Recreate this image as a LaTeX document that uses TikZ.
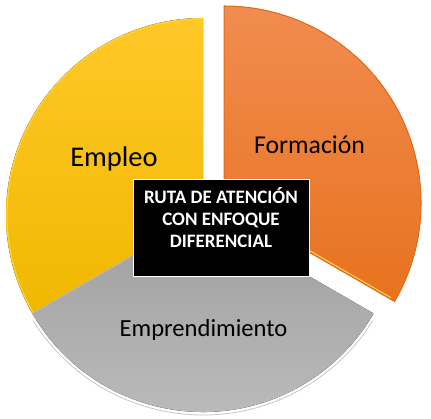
\documentclass[tikz,border=0pt]{standalone}
\usepackage{fontspec}
\setmainfont{Carlito}
\usetikzlibrary{calc}
\definecolor{yelTop}{RGB}{255,200,40}
\definecolor{yelBot}{RGB}{240,184,0}
\definecolor{yelEdge}{RGB}{250,210,60}
\definecolor{orTop}{RGB}{241,140,80}
\definecolor{orBot}{RGB}{232,114,30}
\definecolor{orEdge}{RGB}{228,105,20}
\definecolor{grTop}{RGB}{158,158,158}
\definecolor{grBot}{RGB}{190,190,190}
\definecolor{grEdge}{RGB}{175,175,175}
\tikzset{
  sectorlabel/.style={anchor=base, text=black, inner sep=0pt},
  centerbox/.style={fill=black, draw=white, line width=1pt, minimum width=176pt, minimum height=97pt, inner sep=0pt},
  centertext/.style={text=white, font=\bfseries\fontsize{19}{22}\selectfont, align=center, inner sep=0pt},
}
\begin{document}
\begin{tikzpicture}[x=1pt,y=1pt]
\useasboundingbox (0,0) rectangle (431,419);
\fill[white] (0,0) rectangle (431,419);
% main pie centre and exploded slice centre
\coordinate (C) at (203,204);
\coordinate (O) at (224,216);
% faint shadow under the grey slice
\draw[gray!45, line width=0.8pt] (C) ++(212:200) arc (212:328:200);
% yellow slice
\fill[top color=yelTop, bottom color=yelBot] (C) -- ++(90:197) arc (90:210:197) -- cycle;
\draw[yelEdge, line width=1.2pt] (C) ++(90:196) arc (90:210:196);
% grey slice
\fill[top color=grTop, bottom color=grBot] (C) -- ++(210:197) arc (210:330:197) -- cycle;
\draw[grEdge!80!white, line width=0.8pt] (C) -- ++(210:197);
% orange slice
\fill[top color=orTop, bottom color=orBot] (O) -- ++(-30:197) arc (-30:90:197) -- cycle;
\draw[orEdge, line width=1pt, line join=round] (O) -- ++(-30:197) arc (-30:90:197) -- cycle;
\draw[orange!30!yellow!60!white, line width=0.8pt] ($(O)+(-30:4)+(60:1.5)$) -- ++(-30:188);
% centre box
\node[centerbox] (box) at (221,190.5) {};
\node[centertext] (boxtext) at (221,201) {RUTA DE ATENCIÓN\\CON ENFOQUE\\DIFERENCIAL};
% labels
\node[sectorlabel, font=\fontsize{28.5}{31}\selectfont] (empleo) at (114,252) {Empleo};
\node[sectorlabel, font=\fontsize{25.7}{28}\selectfont] (formacion) at (309.5,265) {Formación};
\node[sectorlabel, font=\fontsize{24.6}{27}\selectfont] (emprend) at (203.5,82) {Emprendimiento};
\end{tikzpicture}
\end{document}
